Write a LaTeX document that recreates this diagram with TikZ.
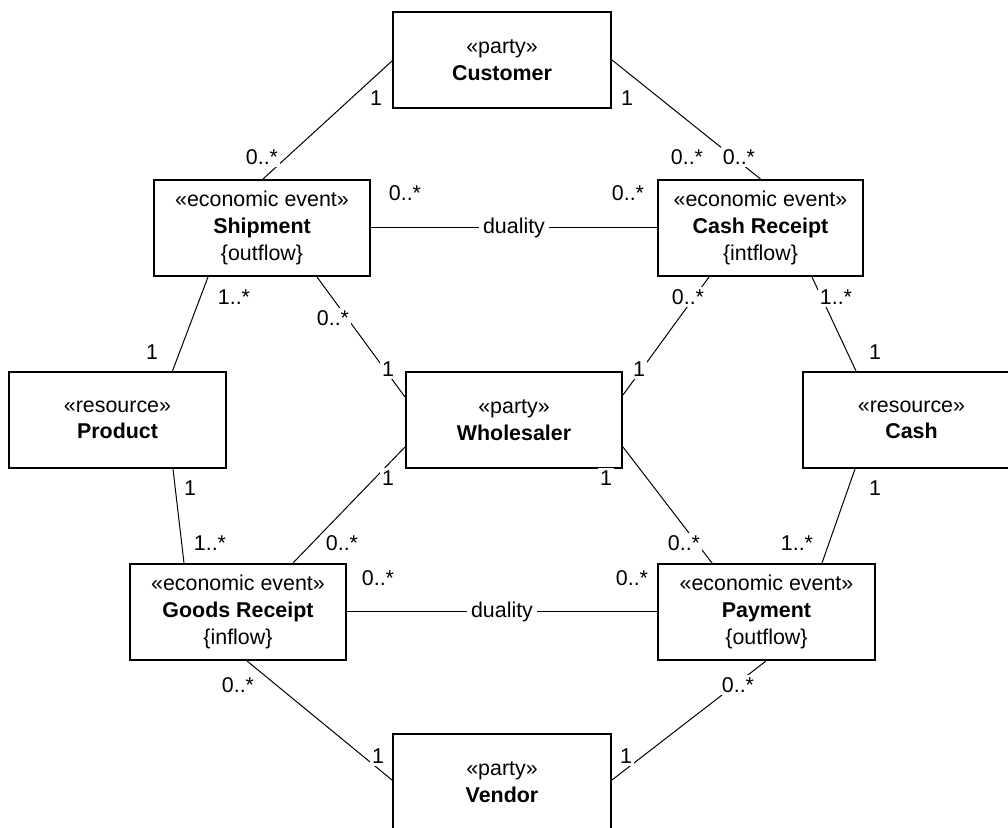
\documentclass[tikz,border=0pt]{standalone}
\usepackage{fontspec}
\setmainfont{Liberation Sans}
\usetikzlibrary{calc}
\tikzset{
  cls/.style={draw, line width=1pt, fill=white, rectangle, align=center,
    minimum height=48pt, inner sep=0pt, font=\fontsize{10.7}{13.3}\selectfont},
  assoc/.style={line width=0.5pt},
  mult/.style={fill=white, inner sep=1.2pt, font=\fontsize{10.7}{12}\selectfont},
  dual/.style={fill=white, inner sep=2pt, font=\fontsize{10.7}{12}\selectfont},
}
\begin{document}
\begin{tikzpicture}[x=0.5pt, y=-0.5pt]
\clip (0,0) rectangle (1008,828);
\fill[white] (0,0) rectangle (1008,828);

% classes
\node[cls, minimum width=109pt] (cust) at (502,60) {«party»\\\textbf{Customer}};
\node[cls, minimum width=108pt] (ship) at (262,228) {«economic event»\\\textbf{Shipment}\\\{outflow\}};
\node[cls, minimum width=102.5pt] (crec) at (760.5,228) {«economic event»\\\textbf{Cash Receipt}\\\{intflow\}};
\node[cls, minimum width=108.5pt] (prod) at (117.5,420) {«resource»\\\textbf{Product}};
\node[cls, minimum width=108pt] (whol) at (514,420) {«party»\\\textbf{Wholesaler}};
\node[cls, minimum width=108.5pt] (cash) at (911.5,420) {«resource»\\\textbf{Cash}};
\node[cls, minimum width=108pt] (grec) at (238,612) {«economic event»\\\textbf{Goods Receipt}\\\{inflow\}};
\node[cls, minimum width=108.5pt] (paym) at (766.5,612) {«economic event»\\\textbf{Payment}\\\{outflow\}};
\node[cls, minimum width=109pt, text depth=0pt] (vend) at (502,782) {«party»\\\textbf{Vendor}};

% associations
\draw[assoc] ($(cust.west)+(0,1)$) -- ($(ship.north)+(1,0)$);
\draw[assoc] (cust.east) -- (crec.north);
\draw[assoc] (ship.east) -- node[dual] (d1) {duality} (crec.west);
\draw[assoc] ($(ship.south)+(-54,0)$) -- ($(prod.north)+(55,0)$);
\draw[assoc] ($(ship.south)+(55,0)$) -- ($(whol.west)+(0,-23)$);
\draw[assoc] ($(crec.south)+(-51.5,0)$) -- ($(whol.east)+(0,-25)$);
\draw[assoc] ($(crec.south)+(51.5,0)$) -- ($(cash.north)+(-55.5,0)$);
\draw[assoc] ($(prod.south)+(55.5,0)$) -- ($(grec.north)+(-54,0)$);
\draw[assoc] ($(whol.west)+(0,27)$) -- ($(grec.north)+(55,0)$);
\draw[assoc] ($(whol.east)+(0,27)$) -- ($(paym.north)+(-54.5,0)$);
\draw[assoc] ($(cash.south)+(-56.5,0)$) -- ($(paym.north)+(55.5,0)$);
\draw[assoc] (grec.east) -- node[dual] (d2) {duality} (paym.west);
\draw[assoc] ($(grec.south)+(9,0)$) -- ($(vend.west)+(0,-2)$);
\draw[assoc] ($(paym.south)+(-0.5,0)$) -- ($(vend.east)+(0,-2)$);

% multiplicities
\node[mult] (m1) at (376,98) {1};
\node[mult] (m2) at (262,157) {0..*};
\node[mult] (m3) at (627,98) {1};
\node[mult] (m4) at (687,157) {0..*};
\node[mult] (m5) at (739,157) {0..*};
\node[mult] (m6) at (405,193) {0..*};
\node[mult] (m7) at (628,193) {0..*};
\node[mult] (m8) at (234,297) {1..*};
\node[mult] (m9) at (152,352) {1};
\node[mult] (m10) at (333,318) {0..*};
\node[mult] (m11) at (388,369) {1};
\node[mult] (m12) at (688,297) {0..*};
\node[mult] (m13) at (639,369) {1};
\node[mult] (m14) at (836,297) {1..*};
\node[mult] (m15) at (875,352) {1};
\node[mult] (m16) at (190,488) {1};
\node[mult] (m17) at (210,543) {1..*};
\node[mult] (m18) at (388,478) {1};
\node[mult] (m19) at (342,543) {0..*};
\node[mult] (m20) at (606,478) {1};
\node[mult] (m21) at (684,543) {0..*};
\node[mult] (m22) at (875,488) {1};
\node[mult] (m23) at (797,543) {1..*};
\node[mult] (m24) at (378,578) {0..*};
\node[mult] (m25) at (632,578) {0..*};
\node[mult] (m26) at (238,685) {0..*};
\node[mult] (m27) at (378,756) {1};
\node[mult] (m28) at (738,685) {0..*};
\node[mult] (m29) at (626,756) {1};
\end{tikzpicture}
\end{document}
